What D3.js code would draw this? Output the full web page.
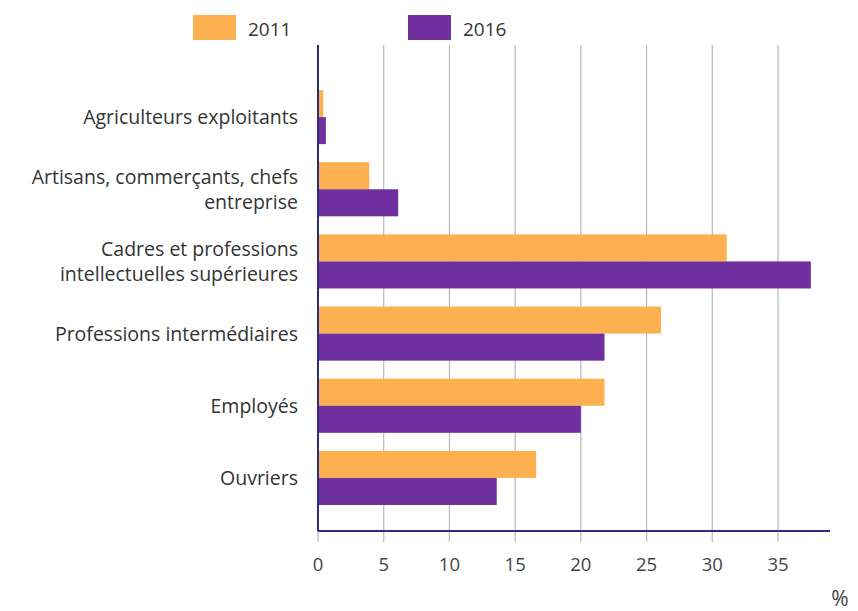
<!DOCTYPE html>
<html><head><meta charset="utf-8">
<script src="https://cdn.jsdelivr.net/npm/d3@7"></script>
<style>body{margin:0;background:#fff}svg{display:block}</style>
</head><body>
<svg id="c" width="858" height="611"></svg>
<script>
const categories = [
  ["Agriculteurs exploitants"],
  ["Artisans, commerçants, chefs", "entreprise"],
  ["Cadres et professions", "intellectuelles supérieures"],
  ["Professions intermédiaires"],
  ["Employés"],
  ["Ouvriers"]
];
const seriesNames = ["2011", "2016"];
const values2011 = [0.4, 3.9, 31.1, 26.1, 21.8, 16.6];
const values2016 = [0.6, 6.1, 37.5, 21.8, 20.0, 13.6];
const xTicks = [0, 5, 10, 15, 20, 25, 30, 35];
const colors = ["#FDB04F", "#7030A0"];

const svg = d3.select("#c");
const font = "'Open Sans', sans-serif";
const keys = categories.map(c => c.join(" "));
const x = d3.scaleLinear().domain([0, 35]).range([318, 778]);
const y = d3.scaleBand().domain(keys).range([81, 514]).paddingInner(0.25).paddingOuter(0.125);
const ys = d3.scaleBand().domain(seriesNames).range([0, y.bandwidth()]);

// gridlines
svg.append("g").selectAll("line").data(xTicks.slice(1)).join("line")
  .attr("x1", d => x(d)).attr("x2", d => x(d))
  .attr("y1", 45).attr("y2", 542)
  .attr("stroke", "#b8b8b8").attr("stroke-width", 1.2);
svg.append("line").attr("x1", x(0)).attr("x2", x(0)).attr("y1", 530).attr("y2", 542)
  .attr("stroke", "#b8b8b8").attr("stroke-width", 1.2);

// bars
const data = keys.map((k, i) => ({k, v: [values2011[i], values2016[i]]}));
const g = svg.append("g").selectAll("g").data(data).join("g")
  .attr("transform", d => `translate(0,${y(d.k)})`);
g.selectAll("rect").data(d => d.v.map((v, j) => ({v, s: seriesNames[j], j}))).join("rect")
  .attr("x", x(0)).attr("y", d => ys(d.s)).attr("height", ys.bandwidth())
  .attr("width", d => x(d.v) - x(0)).attr("fill", d => colors[d.j]);

// axes lines
svg.append("line").attr("x1", x(0)).attr("x2", x(0)).attr("y1", 45).attr("y2", 531)
  .attr("stroke", "#2d2b7c").attr("stroke-width", 2);
svg.append("line").attr("x1", x(0)).attr("x2", 830).attr("y1", 531).attr("y2", 531)
  .attr("stroke", "#2d2b7c").attr("stroke-width", 2);

// tick labels
svg.append("g").selectAll("text").data(xTicks).join("text")
  .attr("x", d => x(d)).attr("y", 571).attr("text-anchor", "middle")
  .attr("font-family", font).attr("font-size", 18.5).attr("fill", "#444")
  .text(d => d);
svg.append("text").attr("x", 840).attr("y", 606).attr("text-anchor", "middle")
  .attr("font-family", font).attr("font-size", 21).attr("fill", "#444").text("%");

// category labels
const lab = svg.append("g").selectAll("text").data(categories).join("text")
  .attr("text-anchor", "end").attr("font-family", font).attr("font-size", 19.5).attr("fill", "#333");
lab.each(function(c, i) {
  const cy = y(keys[i]) + y.bandwidth() / 2;
  const lh = 25;
  const top = cy - (c.length - 1) * lh / 2;
  d3.select(this).selectAll("tspan").data(c).join("tspan")
    .attr("x", 298).attr("y", (d, j) => top + j * lh + 7).text(d => d);
});

// legend
const lx = [193, 408];
seriesNames.forEach((s, i) => {
  svg.append("rect").attr("x", lx[i]).attr("y", 15).attr("width", 43).attr("height", 25).attr("fill", colors[i]);
  svg.append("text").attr("x", lx[i] + 55).attr("y", 36).attr("font-family", font)
    .attr("font-size", 19).attr("fill", "#333").text(s);
});
</script>
</body></html>
